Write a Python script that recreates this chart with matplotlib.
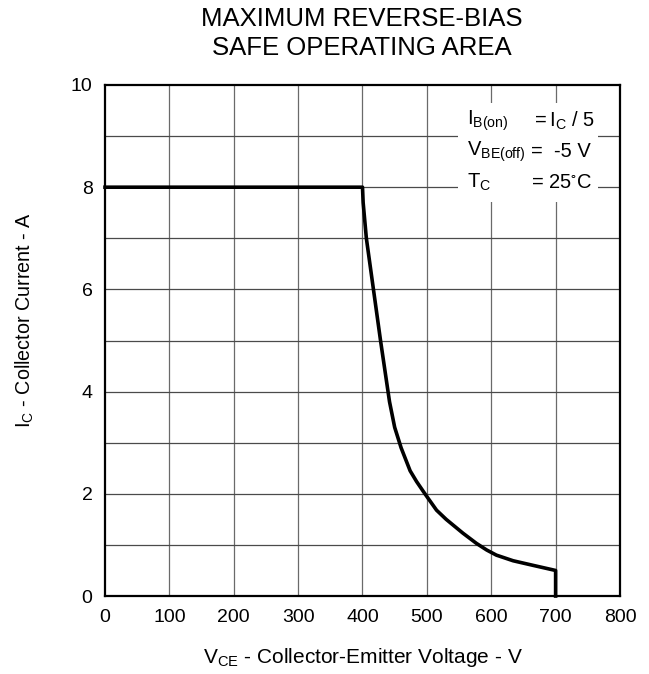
import matplotlib
matplotlib.use('Agg')
import matplotlib.pyplot as plt
from matplotlib.patches import Rectangle

plt.rcParams['font.family'] = ['Liberation Sans', 'DejaVu Sans']
plt.rcParams['mathtext.fontset'] = 'custom'
plt.rcParams['mathtext.rm'] = 'Liberation Sans'
plt.rcParams['mathtext.it'] = 'Liberation Sans'
plt.rcParams['mathtext.default'] = 'regular'

# RBSOA curve
vce = [0, 400, 401, 406, 417, 428, 435, 442, 450, 460, 474, 484, 497,
       515, 530, 556, 577, 593, 608, 634, 665, 700, 700]
ic = [8.0, 8.0, 7.7, 7.0, 6.0, 5.0, 4.4, 3.8, 3.3, 2.9, 2.45, 2.24, 2.0,
      1.68, 1.5, 1.23, 1.03, 0.9, 0.8, 0.69, 0.6, 0.5, 0.0]

x_ticks = [0, 100, 200, 300, 400, 500, 600, 700, 800]
y_ticks = [0, 2, 4, 6, 8, 10]
y_grid = [1, 2, 3, 4, 5, 6, 7, 8, 9]

cond_names = ['$I_{B(on)}$', '$V_{BE(off)}$', '$T_C$']
cond_values = ['$= I_C$ / 5', '=  -5 V', '= 25$^{\\circ}$C']
cond_y = [9.3, 8.69, 8.1]

fig = plt.figure(figsize=(6.49, 6.74), dpi=100)
ax = fig.add_axes([0.1618, 0.1157, 0.7935, 0.7582])

# grid
for v in x_ticks[1:-1]:
    ax.axvline(v, color='#6a6a6a', linewidth=0.9, zorder=1)
for v in y_grid:
    ax.axhline(v, color='#4a4a4a', linewidth=0.9, zorder=1)

# white patch behind the conditions text
ax.add_patch(Rectangle((548, 7.72), 218, 1.93, facecolor='white', edgecolor='none', zorder=2))

ax.plot(vce, ic, color='black', linewidth=2.6, solid_joinstyle='round', zorder=3, clip_on=False)

for name, val, yy in zip(cond_names, cond_values, cond_y):
    ax.text(562, yy, name, fontsize=14.5, va='center', ha='left', zorder=4)
    ax.text(662, yy, val, fontsize=14.5, va='center', ha='left', zorder=4)

ax.set_xlim(0, 800)
ax.set_ylim(0, 10)
ax.set_xticks(x_ticks)
ax.set_yticks(y_ticks)
ax.tick_params(length=0, labelsize=14, pad=9)
for s in ax.spines.values():
    s.set_linewidth(1.6)
    s.set_zorder(5)

fig.text(0.557, 1 - 19 / 674, 'MAXIMUM REVERSE-BIAS', fontsize=18.5, ha='center', va='center')
fig.text(0.557, 1 - 48 / 674, 'SAFE OPERATING AREA', fontsize=18.5, ha='center', va='center')

ax.set_xlabel('$V_{CE}$ - Collector-Emitter Voltage - V', fontsize=15)
ax.xaxis.set_label_coords(0.5, -(657 - 596) / 511, transform=ax.transAxes)
ax.set_ylabel('$I_C$ - Collector Current - A', fontsize=14.2)
ax.yaxis.set_label_coords(-(105 - 25) / 515, (596 - 320) / 511, transform=ax.transAxes)
ax.yaxis.label.set_va('center')
ax.xaxis.label.set_va('center')

fig.savefig('out.png', dpi=100)
